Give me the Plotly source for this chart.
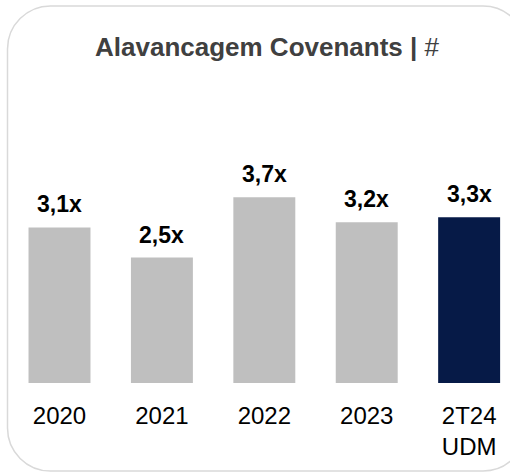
import plotly.graph_objects as go

# data
categories = ["2020", "2021", "2022", "2023", "2T24<br>UDM"]
leverage = [3.1, 2.5, 3.7, 3.2, 3.3]
bar_colors = ["#bfbfbf", "#bfbfbf", "#bfbfbf", "#bfbfbf", "#061a47"]

W, H = 510, 473
PLOT_H = 383  # pixel height of plot area (margin bottom holds the tick labels)
FONT = "Arial, Liberation Sans, sans-serif"


def px(x):
    return x / W


def py(y):
    return (PLOT_H - y) / PLOT_H


def rounded_box(x0, y0, x1, y1, r):
    k = 0.5523 * r
    pts = [
        f"M{px(x0 + r)},{py(y0)}",
        f"L{px(x1 - r)},{py(y0)}",
        f"C{px(x1 - r + k)},{py(y0)} {px(x1)},{py(y0 + r - k)} {px(x1)},{py(y0 + r)}",
        f"L{px(x1)},{py(y1 - r)}",
        f"C{px(x1)},{py(y1 - r + k)} {px(x1 - r + k)},{py(y1)} {px(x1 - r)},{py(y1)}",
        f"L{px(x0 + r)},{py(y1)}",
        f"C{px(x0 + r - k)},{py(y1)} {px(x0)},{py(y1 - r + k)} {px(x0)},{py(y1 - r)}",
        f"L{px(x0)},{py(y0 + r)}",
        f"C{px(x0)},{py(y0 + r - k)} {px(x0 + r - k)},{py(y0)} {px(x0 + r)},{py(y0)}",
        "Z",
    ]
    return " ".join(pts)


labels = [f"{v:.1f}".replace(".", ",") + "x" for v in leverage]
idx = list(range(len(categories)))

fig = go.Figure()
fig.add_trace(go.Bar(
    x=idx,
    y=leverage,
    marker=dict(color=bar_colors, line=dict(width=0)),
    width=0.605,
    hoverinfo="skip",
))

# value labels above bars
for i, v, lab in zip(idx, leverage, labels):
    fig.add_annotation(
        x=i, y=v, text=f"<b>{lab}</b>",
        showarrow=False, yanchor="bottom", yshift=8,
        font=dict(family=FONT, size=23, color="#000000"),
    )

# title
fig.add_annotation(
    x=px(267.5), y=py(47), xref="paper", yref="paper",
    text="<b>Alavancagem Covenants |</b> #",
    showarrow=False, xanchor="center", yanchor="middle",
    font=dict(family=FONT, size=26, color="#404040"),
)

# rounded frame
fig.add_shape(
    type="path", xref="paper", yref="paper",
    path=rounded_box(7.5, 6, 526, 471, 43),
    line=dict(color="#d9d9d9", width=1.5),
    layer="below",
)

fig.update_layout(
    width=W, height=H,
    margin=dict(l=0, r=0, t=0, b=H - PLOT_H, pad=0),
    paper_bgcolor="white", plot_bgcolor="white",
    showlegend=False,
    xaxis=dict(
        range=[-0.581, 4.399],
        tickmode="array", tickvals=idx, ticktext=categories,
        showgrid=False, zeroline=False, showline=False,
        ticks="outside", ticklen=11, tickcolor="rgba(0,0,0,0)",
        tickfont=dict(family=FONT, size=24, color="#000000"),
        fixedrange=True,
    ),
    yaxis=dict(
        range=[0, PLOT_H / 50.2],
        visible=False, fixedrange=True,
    ),
)

fig.write_html(
    "out.html",
    config={"displayModeBar": False},
    post_script="document.body.style.margin='0';document.body.style.overflow='hidden';",
)
